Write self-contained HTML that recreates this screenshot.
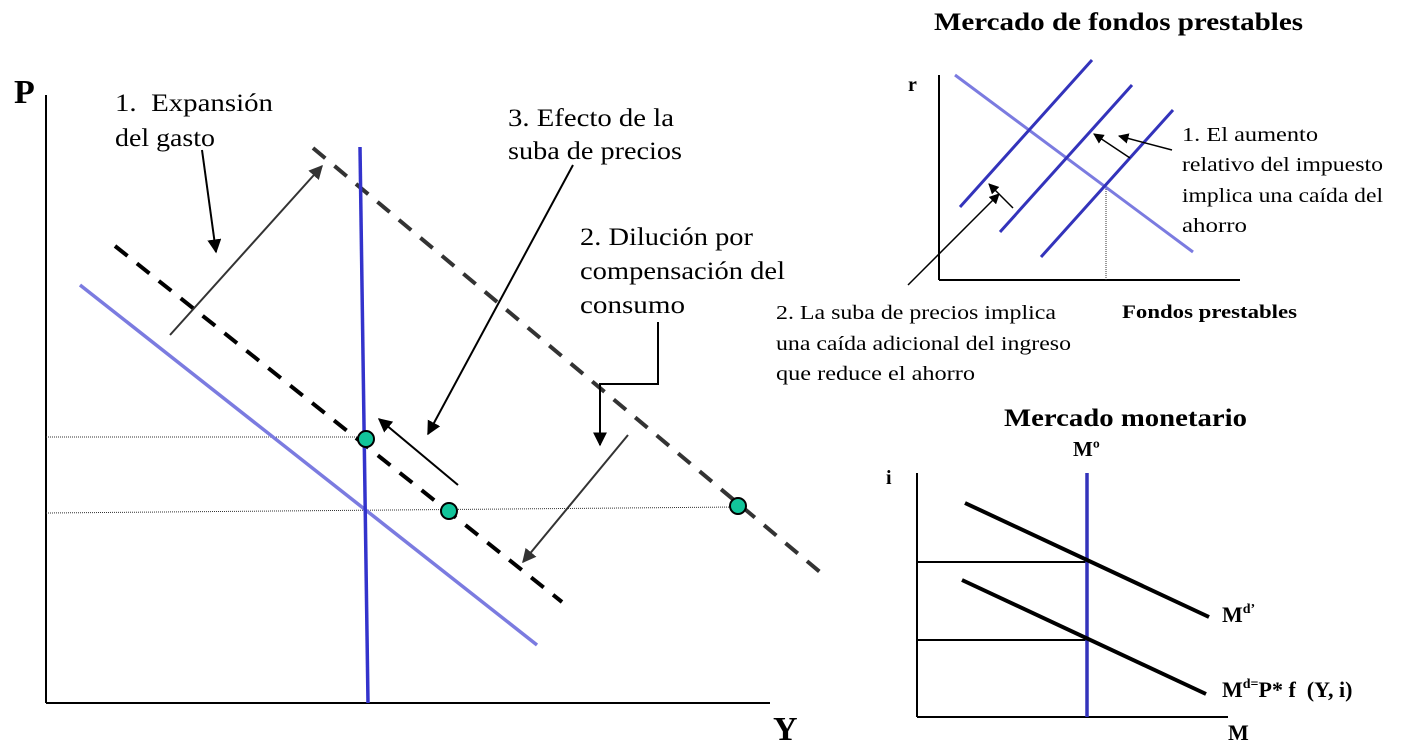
<!DOCTYPE html>
<html><head><meta charset="utf-8"><style>
html,body{margin:0;padding:0;background:#fff;}
svg{display:block;font-family:"Liberation Serif",serif;}
</style></head><body>
<svg width="1404" height="750" viewBox="0 0 1404 750">
<defs>
<marker id="ah" viewBox="0 0 10 10" refX="9" refY="5" markerWidth="7" markerHeight="7" orient="auto"><path d="M0,0 L10,5 L0,10 z" fill="#000"/></marker>
<marker id="ahg" viewBox="0 0 10 10" refX="9" refY="5" markerWidth="7" markerHeight="7" orient="auto"><path d="M0,0 L10,5 L0,10 z" fill="#333"/></marker>
</defs>
<g>
<line x1="46" y1="95" x2="46" y2="703" stroke="#000" stroke-width="2"/>
<line x1="46" y1="703" x2="770" y2="703" stroke="#000" stroke-width="2"/>
<text x="14" y="103" font-size="34" font-weight="bold">P</text>
<text x="773" y="740" font-size="34" font-weight="bold">Y</text>
<line x1="46" y1="437" x2="366" y2="437" stroke="#333" stroke-width="1" stroke-dasharray="1,1"/>
<line x1="46" y1="513" x2="738" y2="507" stroke="#333" stroke-width="1" stroke-dasharray="1,1"/>
<line x1="80" y1="285" x2="537" y2="645" stroke="#7b7be0" stroke-width="3.5"/>
<line x1="115" y1="246" x2="562" y2="602" stroke="#000" stroke-width="4" stroke-dasharray="16,12"/>
<line x1="313" y1="148" x2="820" y2="572" stroke="#333" stroke-width="4" stroke-dasharray="16,12"/>
<line x1="360" y1="147" x2="368" y2="703" stroke="#3333cc" stroke-width="3.5"/>
<line x1="170" y1="335" x2="322" y2="166" stroke="#333" stroke-width="2" marker-end="url(#ahg)"/>
<line x1="202" y1="150" x2="216" y2="252" stroke="#000" stroke-width="2" marker-end="url(#ah)"/>
<line x1="573" y1="165" x2="428" y2="434" stroke="#000" stroke-width="2" marker-end="url(#ah)"/>
<line x1="458" y1="485" x2="379" y2="419" stroke="#000" stroke-width="2" marker-end="url(#ah)"/>
<polyline points="658,322 658,384 600,384 600,445" fill="none" stroke="#000" stroke-width="2" marker-end="url(#ah)"/>
<line x1="628" y1="435" x2="523" y2="562" stroke="#333" stroke-width="2" marker-end="url(#ahg)"/>
<circle cx="366" cy="439" r="8" fill="#12c49a" stroke="#000" stroke-width="2"/>
<circle cx="449" cy="511" r="8" fill="#12c49a" stroke="#000" stroke-width="2"/>
<circle cx="738" cy="506" r="8" fill="#12c49a" stroke="#000" stroke-width="2"/>
<g font-size="25" lengthAdjust="spacingAndGlyphs">
<text x="115" y="111" textLength="158" lengthAdjust="spacingAndGlyphs">1.&#160;&#160;Expansión</text><text x="115" y="146" textLength="100" lengthAdjust="spacingAndGlyphs">del gasto</text></g>
<g font-size="25">
<text x="508" y="126" textLength="166" lengthAdjust="spacingAndGlyphs">3. Efecto de la</text><text x="508" y="159" textLength="174" lengthAdjust="spacingAndGlyphs">suba de precios</text></g>
<g font-size="25">
<text x="580" y="245" textLength="173" lengthAdjust="spacingAndGlyphs">2. Dilución por</text><text x="580" y="279" textLength="205" lengthAdjust="spacingAndGlyphs">compensación del</text><text x="580" y="313" textLength="105" lengthAdjust="spacingAndGlyphs">consumo</text></g>
</g>
<g>
<text x="934" y="30" font-size="25" font-weight="bold" textLength="369" lengthAdjust="spacingAndGlyphs">Mercado de fondos prestables</text>
<text x="908" y="91" font-size="20" font-weight="bold">r</text>
<line x1="939" y1="75" x2="939" y2="280" stroke="#000" stroke-width="2"/>
<line x1="939" y1="280" x2="1240" y2="280" stroke="#000" stroke-width="2"/>
<line x1="1106" y1="185" x2="1106" y2="280" stroke="#333" stroke-width="1" stroke-dasharray="1,1"/>
<line x1="955" y1="75" x2="1193" y2="252" stroke="#7b7be0" stroke-width="3"/>
<line x1="960" y1="207" x2="1092" y2="60" stroke="#3333bb" stroke-width="3"/>
<line x1="1000" y1="232" x2="1132" y2="85" stroke="#3333bb" stroke-width="3"/>
<line x1="1041" y1="257" x2="1173" y2="110" stroke="#3333bb" stroke-width="3"/>
<line x1="1172" y1="150" x2="1119" y2="136" stroke="#000" stroke-width="1.5" marker-end="url(#ah)"/>
<line x1="1130" y1="158" x2="1094" y2="134" stroke="#000" stroke-width="1.5" marker-end="url(#ah)"/>
<line x1="908" y1="285" x2="999" y2="194" stroke="#000" stroke-width="1.5" marker-end="url(#ah)"/>
<line x1="1013" y1="208" x2="989" y2="184" stroke="#000" stroke-width="1.5" marker-end="url(#ah)"/>
<g font-size="20">
<text x="1182" y="141" textLength="136" lengthAdjust="spacingAndGlyphs">1. El aumento</text><text x="1182" y="171" textLength="201" lengthAdjust="spacingAndGlyphs">relativo del impuesto</text><text x="1182" y="202" textLength="201" lengthAdjust="spacingAndGlyphs">implica una caída del</text><text x="1182" y="232" textLength="65" lengthAdjust="spacingAndGlyphs">ahorro</text></g>
<text x="1122" y="318" font-size="19" font-weight="bold" textLength="175" lengthAdjust="spacingAndGlyphs">Fondos prestables</text>
<g font-size="20">
<text x="776" y="319" textLength="280" lengthAdjust="spacingAndGlyphs">2. La suba de precios implica</text><text x="776" y="350" textLength="295" lengthAdjust="spacingAndGlyphs">una caída adicional del ingreso</text><text x="776" y="380" textLength="199" lengthAdjust="spacingAndGlyphs">que reduce el ahorro</text></g>
</g>
<g>
<text x="1004" y="426" font-size="25" font-weight="bold" textLength="243" lengthAdjust="spacingAndGlyphs">Mercado monetario</text>
<text x="1073" y="456" font-size="21" font-weight="bold">Mº</text>
<text x="886" y="484" font-size="20" font-weight="bold">i</text>
<line x1="917" y1="473" x2="917" y2="717" stroke="#000" stroke-width="2"/>
<line x1="917" y1="717" x2="1228" y2="717" stroke="#000" stroke-width="2"/>
<line x1="917" y1="562" x2="1087" y2="562" stroke="#000" stroke-width="2"/>
<line x1="917" y1="640" x2="1087" y2="640" stroke="#000" stroke-width="2"/>
<line x1="1087" y1="473" x2="1087" y2="717" stroke="#3333bb" stroke-width="3.5"/>
<line x1="965" y1="503" x2="1209" y2="617" stroke="#000" stroke-width="4"/>
<line x1="962" y1="580" x2="1206" y2="694" stroke="#000" stroke-width="4"/>
<text x="1222" y="622" font-size="22" font-weight="bold">M<tspan font-size="14" dy="-9">d’</tspan></text>
<text x="1222" y="697" font-size="22" font-weight="bold">M<tspan font-size="14" dy="-9">d=</tspan><tspan dy="9">P* f&#160; (Y, i)</tspan></text>
<text x="1228" y="740" font-size="22" font-weight="bold">M</text>
</g>
</svg>
</body></html>
